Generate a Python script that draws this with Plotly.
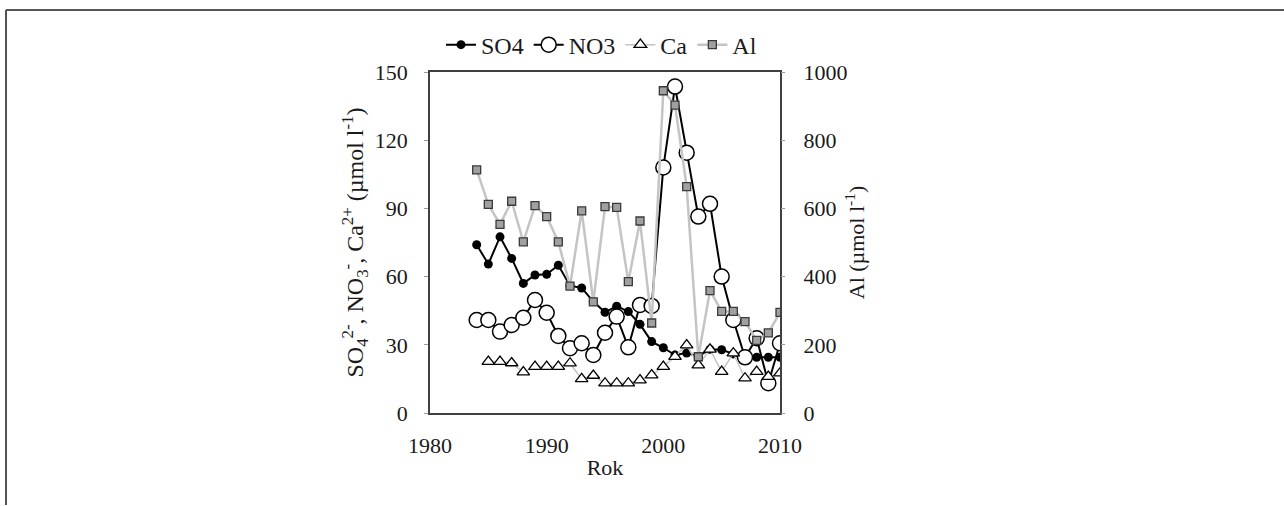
import plotly.graph_objects as go

# Annual means, 1984-2010
years = list(range(1984, 2011))

so4 = [74, 65.5, 77.5, 68, 57, 60.7, 61, 65, 56, 55, 49, 44.3, 47, 44.6, 39,
       31.4, 28.7, 25.5, 26.4, 25, 28, 27.8, 26, 25, 24.5, 24.5, 24.5]
no3 = [40.9, 40.9, 35.8, 38.7, 41.9, 49.7, 44.1, 33.9, 28.5, 30.7, 25.5, 35.3,
       42.4, 28.9, 47.5, 47.1, 108, 143.6, 114.5, 86.4, 92, 60, 40.9, 24.5,
       32.9, 13.1, 30.7]
ca = [None, 22.6, 22.6, 22, 18, 20.4, 20.4, 20.4, 21.9, 15, 16.5, 13.1, 13.1,
      13.1, 14.5, 16.7, 20.4, 24.8, 29.9, 21.1, 28, 18.2, 26.3, 15.3, 18.2,
      16, 17.5]
al = [713, 612, 553, 621, 502, 608, 576, 502, 372, 593, 326, 605, 603, 385,
      563, 264, 945, 903, 664, 165, 359, 298, 298, 268, 213, 235, 295]

x_ticks = [1980, 1990, 2000, 2010]
y_ticks = [0, 30, 60, 90, 120, 150]
y2_ticks = [0, 200, 400, 600, 800, 1000]

FONT = "Liberation Serif, Times New Roman, serif"
TXT = "#1a1a1a"
AX = "#404040"
FS = 22

fig = go.Figure()

fig.add_trace(go.Scatter(
    x=years, y=so4, name="SO4", mode="lines+markers",
    line=dict(color="#000000", width=2),
    marker=dict(symbol="circle", size=9, color="#000000"),
))
fig.add_trace(go.Scatter(
    x=years, y=no3, name="NO3", mode="lines+markers",
    line=dict(color="#000000", width=2),
    marker=dict(symbol="circle", size=15, color="#ffffff",
                line=dict(color="#000000", width=1.5)),
))
fig.add_trace(go.Scatter(
    x=years, y=ca, name="Ca", mode="lines+markers",
    line=dict(color="#c4c4c4", width=1.5),
    marker=dict(symbol="triangle-up", size=11, color="#ffffff",
                line=dict(color="#000000", width=1.3)),
))
fig.add_trace(go.Scatter(
    x=years, y=al, name="Al", mode="lines+markers", yaxis="y2",
    line=dict(color="#c4c4c4", width=2.5),
    marker=dict(symbol="square", size=8, color="#a0a0a0",
                line=dict(color="#3a3a3a", width=1.3)),
))

# Outer frame (top and left edges)
fig.add_shape(type="line", xref="paper", yref="paper",
              x0=-1.2114, x1=2.5, y0=1.1818, y1=1.1818,
              line=dict(color="#555555", width=2))
fig.add_shape(type="line", xref="paper", yref="paper",
              x0=-1.2114, x1=-1.2114, y0=1.1818, y1=-0.27,
              line=dict(color="#555555", width=2))

fig.update_layout(
    width=1284, height=506,
    margin=dict(l=430, r=504, t=72, b=93, autoexpand=False),
    paper_bgcolor="#ffffff", plot_bgcolor="#ffffff",
    font=dict(family=FONT, size=FS, color=TXT),
    showlegend=True,
    legend=dict(orientation="h", x=0.49, xanchor="center",
                y=1.079, yanchor="middle",
                font=dict(family=FONT, size=24, color=TXT),
                bgcolor="rgba(0,0,0,0)", itemwidth=30,
                tracegroupgap=0),
    xaxis=dict(
        range=[1980, 2010], tickvals=x_ticks, ticktext=[str(v) for v in x_ticks],
        showgrid=False, zeroline=False,
        showline=True, linecolor=AX, linewidth=1.5, mirror=True,
        ticks="", ticklabelstandoff=12,
        tickfont=dict(family=FONT, size=FS, color=TXT),
        title=dict(text="Rok", font=dict(family=FONT, size=FS, color=TXT),
                   standoff=2),
    ),
    yaxis=dict(
        range=[0, 150], tickvals=y_ticks, ticktext=[str(v) for v in y_ticks],
        showgrid=False, zeroline=False,
        showline=True, linecolor=AX, linewidth=1.5, mirror=True,
        ticks="outside", ticklen=4, tickcolor="#9a9a9a", ticklabelstandoff=12,
        tickfont=dict(family=FONT, size=FS, color=TXT),
        title=dict(text="SO<sub>4</sub><sup>2-</sup>, NO<sub>3</sub><sup>-</sup>, "
                        "Ca<sup>2+</sup> (µmol l<sup>-1</sup>)",
                   font=dict(family=FONT, size=24, color=TXT), standoff=4),
    ),
    yaxis2=dict(
        range=[0, 1000], tickvals=y2_ticks, ticktext=[str(v) for v in y2_ticks],
        overlaying="y", side="right",
        showgrid=False, zeroline=False, showline=False,
        ticks="outside", ticklen=4, tickcolor="#9a9a9a", ticklabelstandoff=14,
        tickfont=dict(family=FONT, size=FS, color=TXT),
        title=dict(text="Al (µmol l<sup>-1</sup>)",
                   font=dict(family=FONT, size=FS, color=TXT), standoff=2),
    ),
)

fig.write_html("out.html")
